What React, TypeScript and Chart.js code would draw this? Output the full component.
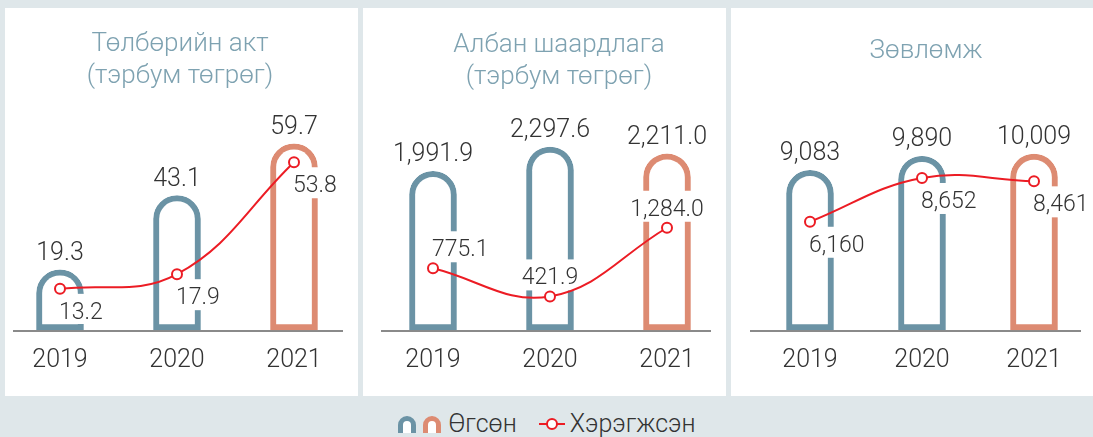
import React, { useEffect, useRef } from "react";
import { Chart, registerables } from "chart.js";

Chart.register(...registerables);
Chart.defaults.font.family = "Roboto";

// ---------- data ----------
const years = ["2019", "2020", "2021"];

const paymentIssued = [19.3, 43.1, 59.7];
const paymentDone = [13.2, 17.9, 53.8];

const demandIssued = [1991.9, 2297.6, 2211.0];
const demandDone = [775.1, 421.9, 1284.0];

const adviceIssued = [9083, 9890, 10009];
const adviceDone = [6160, 8652, 8461];

const titlePayment = ["Төлбөрийн акт", "(тэрбум төгрөг)"];
const titleDemand = ["Албан шаардлага", "(тэрбум төгрөг)"];
const titleAdvice = ["Зөвлөмж"];

const legendIssued = "Өгсөн";
const legendDone = "Хэрэгжсэн";

// ---------- styles ----------
const BLUE = "#6b93a5";
const ORANGE = "#dd8b72";
const RED = "#ec1c24";
const TEXT = "#333333";
const TITLE = "#7ea2b1";
const BG = "#dfe7ea";
const barColors = [BLUE, BLUE, ORANGE];

type Align = "left" | "center";
type Panel = {
  key: string;
  left: number;
  width: number;
  title: string[];
  titleTop: number;
  titleCenter: number;
  issued: number[];
  done: number[];
  max: number;
  decimals: number;
  padL: number;
  padR: number;
  axisFrom: number;
  axisTo: number;
  lineBelow: boolean;
  lineAlign: Align[];
};

const PANEL_TOP = 8;
const PANEL_H = 388;

const panels: Panel[] = [
  {
    key: "payment",
    left: 5,
    width: 353,
    title: titlePayment,
    titleTop: 17.5,
    titleCenter: 175,
    issued: paymentIssued,
    done: paymentDone,
    max: 71.2,
    decimals: 1,
    padL: 55,
    padR: 64,
    axisFrom: 8,
    axisTo: 338,
    lineBelow: true,
    lineAlign: ["left", "left", "left"],
  },
  {
    key: "demand",
    left: 363,
    width: 363,
    title: titleDemand,
    titleTop: 19,
    titleCenter: 196,
    issued: demandIssued,
    done: demandDone,
    max: 2788,
    decimals: 1,
    padL: 70,
    padR: 59,
    axisFrom: 18,
    axisTo: 348,
    lineBelow: false,
    lineAlign: ["left", "center", "center"],
  },
  {
    key: "advice",
    left: 731,
    width: 362,
    title: titleAdvice,
    titleTop: 24.5,
    titleCenter: 195,
    issued: adviceIssued,
    done: adviceDone,
    max: 12635,
    decimals: 0,
    padL: 79,
    padR: 59,
    axisFrom: 19,
    axisTo: 350,
    lineBelow: true,
    lineAlign: ["left", "left", "left"],
  },
];

function PanelChart({ p }: { p: Panel }) {
  const ref = useRef<HTMLCanvasElement | null>(null);

  useEffect(() => {
    if (!ref.current) return;
    const fmt = (v: number) =>
      v.toLocaleString("en-US", {
        minimumFractionDigits: p.decimals,
        maximumFractionDigits: p.decimals,
      });
    const LINE_FONT = "300 23px Roboto";
    const BAR_FONT = "300 25px Roboto";

    const lineLabel = (ctx: CanvasRenderingContext2D, pt: any, i: number) => {
      ctx.font = LINE_FONT;
      const text = fmt(p.done[i]);
      const w = ctx.measureText(text).width;
      const x = p.lineAlign[i] === "left" ? pt.x - 1 : pt.x - w / 2;
      const base = p.lineBelow ? pt.y + 30 : pt.y - 12;
      return { text, x, base, w };
    };

    const decor = {
      id: "archDecor",
      beforeDatasetsDraw(chart: any) {
        const { ctx, chartArea } = chart;
        ctx.save();
        ctx.strokeStyle = "#8a8a8a";
        ctx.lineWidth = 2;
        ctx.beginPath();
        ctx.moveTo(p.axisFrom, chartArea.bottom + 1);
        ctx.lineTo(p.axisTo, chartArea.bottom + 1);
        ctx.stroke();
        ctx.restore();
      },
      beforeDatasetDraw(chart: any, args: any) {
        if (args.index !== 1) return;
        const { ctx, chartArea } = chart;
        const meta = chart.getDatasetMeta(1);
        ctx.save();
        ctx.fillStyle = "#ffffff";
        meta.data.forEach((pt: any, i: number) => {
          const l = lineLabel(ctx, pt, i);
          const top = l.base - 25;
          const bottom = Math.min(l.base + 6, chartArea.bottom - 6);
          ctx.fillRect(l.x - 3, top, l.w + 6, bottom - top);
        });
        ctx.restore();
      },
      afterDatasetsDraw(chart: any) {
        const { ctx } = chart;
        ctx.save();
        ctx.fillStyle = TEXT;
        ctx.textBaseline = "alphabetic";
        const barMeta = chart.getDatasetMeta(0);
        ctx.font = BAR_FONT;
        ctx.textAlign = "center";
        barMeta.data.forEach((bar: any, i: number) => {
          ctx.fillText(fmt(p.issued[i]), bar.x, bar.y - 10);
        });
        const lineMeta = chart.getDatasetMeta(1);
        ctx.textAlign = "left";
        lineMeta.data.forEach((pt: any, i: number) => {
          const l = lineLabel(ctx, pt, i);
          ctx.fillText(l.text, l.x, l.base);
        });
        ctx.restore();
      },
    };

    const chart = new Chart(ref.current, {
      type: "bar",
      data: {
        labels: years,
        datasets: [
          {
            type: "bar",
            label: legendIssued,
            data: p.issued,
            order: 2,
            clip: false as any,
            backgroundColor: "#ffffff",
            borderColor: barColors,
            borderWidth: 6,
            borderSkipped: false,
            borderRadius: { topLeft: 24, topRight: 24, bottomLeft: 0, bottomRight: 0 },
            barThickness: 47,
          } as any,
          {
            type: "line",
            label: legendDone,
            data: p.done,
            order: 1,
            clip: false as any,
            borderColor: RED,
            borderWidth: 2,
            tension: 0.4,
            pointRadius: 5,
            pointBorderWidth: 2,
            pointBackgroundColor: "#ffffff",
            pointBorderColor: RED,
          } as any,
        ],
      },
      options: {
        responsive: false,
        animation: false,
        events: [],
        layout: { padding: { top: 100, left: p.padL, right: p.padR, bottom: 4 } },
        plugins: {
          legend: { display: false },
          tooltip: { enabled: false },
          title: { display: false },
        },
        scales: {
          x: {
            offset: false,
            grid: { display: false, drawTicks: false },
            border: { display: false },
            ticks: {
              color: TEXT,
              padding: 16,
              font: { family: "Roboto", size: 25, weight: "300" as any },
            },
          },
          y: {
            display: false,
            min: 0,
            max: p.max,
          },
        },
      },
      plugins: [decor],
    });
    return () => chart.destroy();
  }, [p]);

  return (
    <div
      style={{
        position: "absolute",
        left: p.left,
        top: PANEL_TOP,
        width: p.width,
        height: PANEL_H,
        background: "#ffffff",
      }}
    >
      <canvas
        ref={ref}
        width={p.width}
        height={PANEL_H}
        style={{ position: "absolute", left: 0, top: 0, display: "block" }}
      />
      <div
        style={{
          position: "absolute",
          top: p.titleTop,
          left: p.titleCenter,
          transform: "translateX(-50%)",
          fontFamily: "Roboto",
          fontSize: 26,
          lineHeight: "32px",
          fontWeight: 300,
          color: TITLE,
          textAlign: "center",
          whiteSpace: "nowrap",
        }}
      >
        {p.title.map((t) => (
          <div key={t}>{t}</div>
        ))}
      </div>
    </div>
  );
}

function ArchIcon({ color }: { color: string }) {
  return (
    <svg width={18} height={17} viewBox="0 0 18 17" style={{ display: "block" }}>
      <path d="M2.5,17 L2.5,9 A6.5,6.5 0 0 1 15.5,9 L15.5,17" fill="#ffffff" stroke={color} strokeWidth={5} />
    </svg>
  );
}

function LineIcon() {
  return (
    <svg width={26} height={14} viewBox="0 0 26 14" style={{ display: "block" }}>
      <line x1={0} y1={7} x2={26} y2={7} stroke={RED} strokeWidth={2} />
      <circle cx={13} cy={7} r={5} fill="#ffffff" stroke={RED} strokeWidth={2} />
    </svg>
  );
}

function Legend() {
  return (
    <div
      style={{
        position: "absolute",
        left: 0,
        top: 410,
        width: 1093,
        height: 28,
        display: "flex",
        justifyContent: "center",
        alignItems: "center",
        fontFamily: "Roboto",
        fontSize: 25,
        fontWeight: 300,
        lineHeight: "28px",
        color: TEXT,
        whiteSpace: "nowrap",
      }}
    >
      <ArchIcon color={BLUE} />
      <div style={{ width: 7 }} />
      <ArchIcon color={ORANGE} />
      <div style={{ width: 8 }} />
      <span>{legendIssued}</span>
      <div style={{ width: 22 }} />
      <LineIcon />
      <div style={{ width: 5 }} />
      <span>{legendDone}</span>
    </div>
  );
}

export default function App() {
  return (
    <div
      style={{
        position: "fixed",
        left: 0,
        top: 0,
        width: 1093,
        height: 437,
        background: BG,
        overflow: "hidden",
      }}
    >
      {panels.map((p) => (
        <PanelChart key={p.key} p={p} />
      ))}
      <Legend />
    </div>
  );
}
